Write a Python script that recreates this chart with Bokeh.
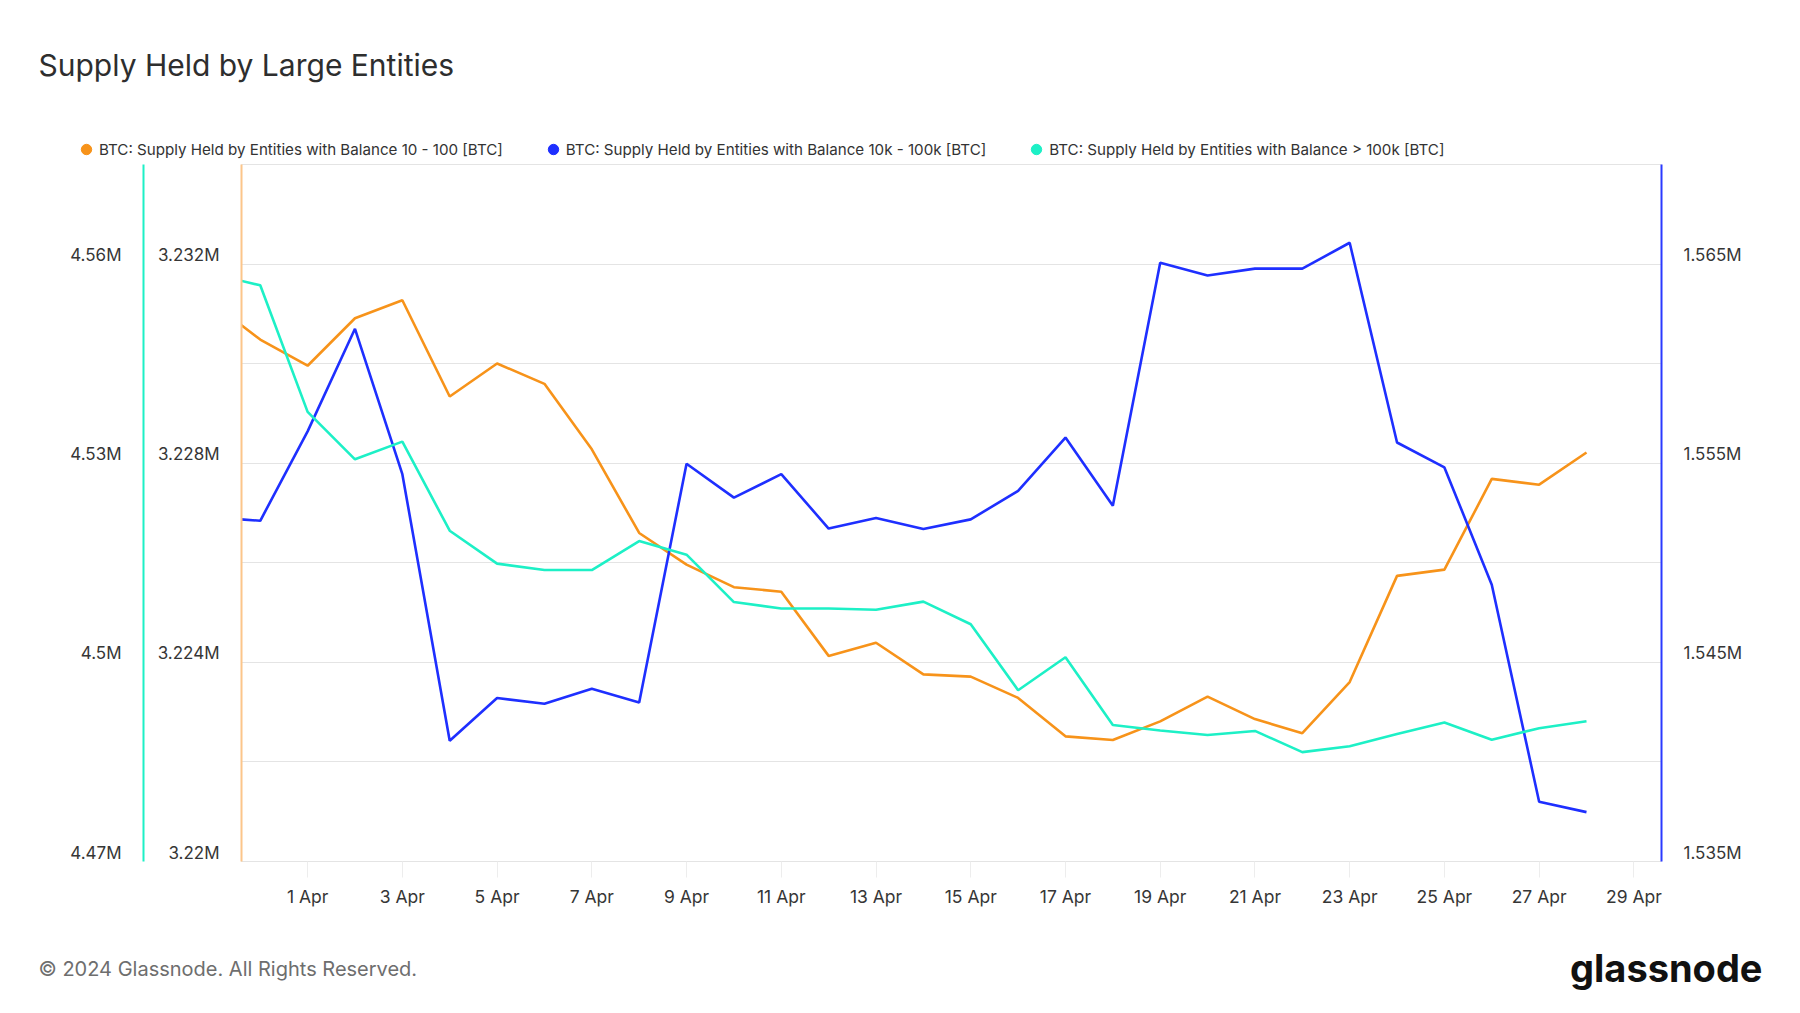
from datetime import datetime, timedelta, timezone

from bokeh.plotting import figure
from bokeh.layouts import column
from bokeh.models import (Range1d, LinearAxis, FixedTicker, CustomJSTickFormatter,
                          Legend, LegendItem, Label, Grid, ColumnDataSource)
from bokeh.embed import file_html
from bokeh.resources import INLINE

# ---------------- data (BTC) ----------------
start_day = datetime(2024, 3, 30, tzinfo=timezone.utc)
dates = [start_day + timedelta(days=i) for i in range(30)]  # 30 Mar .. 28 Apr

supply_10_100 = [3.231212, 3.230484, 3.229958, 3.230911, 3.231274, 3.229340, 3.230003,
                 3.229594, 3.228279, 3.226599, 3.225964, 3.225510, 3.225419, 3.224130,
                 3.224393, 3.223758, 3.223713, 3.223286, 3.222514, 3.222442, 3.222815,
                 3.223313, 3.222860, 3.222578, 3.223604, 3.225737, 3.225862, 3.227685,
                 3.227569, 3.228215]
supply_10k_100k = [1.55228, 1.55211, 1.55660, 1.56175, 1.55445, 1.54106, 1.54321, 1.54292,
                   1.54367, 1.54299, 1.55497, 1.55327, 1.55445, 1.55172, 1.55225, 1.55170,
                   1.55218, 1.55361, 1.55629, 1.55286, 1.56507, 1.56443, 1.56477, 1.56477,
                   1.56607, 1.55604, 1.55479, 1.54890, 1.53800, 1.53748]
supply_gt_100k = [4.55850, 4.55680, 4.53774, 4.53059, 4.53325, 4.51983, 4.51487, 4.51391,
                  4.51391, 4.51827, 4.51622, 4.50908, 4.50812, 4.50812, 4.50792, 4.50915,
                  4.50574, 4.49580, 4.50077, 4.49056, 4.48974, 4.48906, 4.48967, 4.48648,
                  4.48736, 4.48920, 4.49094, 4.48835, 4.49008, 4.49112]

series_names = ["BTC: Supply Held by Entities with Balance 10 - 100 [BTC]",
                "BTC: Supply Held by Entities with Balance 10k - 100k [BTC]",
                "BTC: Supply Held by Entities with Balance > 100k [BTC]"]

x_tick_days = [1, 3, 5, 7, 9, 11, 13, 15, 17, 19, 21, 23, 25, 27, 29]
x_tick_labels = ["1 Apr", "3 Apr", "5 Apr", "7 Apr", "9 Apr", "11 Apr", "13 Apr", "15 Apr",
                 "17 Apr", "19 Apr", "21 Apr", "23 Apr", "25 Apr", "27 Apr", "29 Apr"]

cyan_ticks = [4.47e6, 4.50e6, 4.53e6, 4.56e6]
cyan_labels = ["4.47M", "4.5M", "4.53M", "4.56M"]
orange_ticks = [3.220e6, 3.224e6, 3.228e6, 3.232e6]
orange_labels = ["3.22M", "3.224M", "3.228M", "3.232M"]
blue_ticks = [1.535e6, 1.545e6, 1.555e6, 1.565e6]
blue_labels = ["1.535M", "1.545M", "1.555M", "1.565M"]
grid_ticks = [4.47e6, 4.485e6, 4.50e6, 4.515e6, 4.53e6, 4.545e6, 4.56e6]

title_text = "Supply Held by Large Entities"
footer_text = "© 2024 Glassnode. All Rights Reserved."
logo_text = "glassnode"

# ---------------- style ----------------
ORANGE = "#F7931A"
BLUE = "#1E2FFF"
CYAN = "#1DF0C6"
FONT = "Inter"
TXT = "#363636"
W = 1798
HEAD_H, MAIN_H, FOOT_H = 164, 756, 90

ms = lambda d: d.timestamp() * 1000.0
x_start = ms(datetime(2024, 3, 30, 14, 30, tzinfo=timezone.utc))
x_end = ms(datetime(2024, 4, 29, 14, 0, tzinfo=timezone.utc))
x_ticks = [ms(datetime(2024, 4, d, tzinfo=timezone.utc)) for d in x_tick_days]

cyan_rng = (4.47e6, 4.575e6)
orange_rng = (3.220e6, 3.234e6)
blue_rng = (1.535e6, 1.570e6)
FRAME_H = 697
LBL_SHIFT = 9  # px, labels sit slightly above their grid line


def shifted(r):
    d = (r[1] - r[0]) * LBL_SHIFT / FRAME_H
    return Range1d(r[0] - d, r[1] - d)


def bare_fig(h):
    f = figure(width=W, height=h, output_backend="svg", toolbar_location=None,
               x_axis_location=None, y_axis_location=None,
               x_range=Range1d(0, 1), y_range=Range1d(0, 1),
               min_border=0, min_border_left=0, min_border_right=0,
               min_border_top=0, min_border_bottom=0, frame_align=False)
    f.outline_line_color = None
    f.xgrid.visible = False
    f.ygrid.visible = False
    f.background_fill_color = "white"
    f.border_fill_color = "white"
    return f


# ---------------- header: title + legend ----------------
head = bare_fig(HEAD_H)
head.add_layout(Label(x=38, y=HEAD_H - 64, x_units="screen", y_units="screen",
                      text=title_text, text_font=FONT, text_font_size="30px",
                      text_color="#2e2e2e", text_baseline="middle"))
nan = float("nan")
marker_src = ColumnDataSource(dict(x=[nan], y=[nan]))
dots = [head.scatter("x", "y", source=marker_src, marker="circle", fill_color=c, line_color=c)
        for c in (ORANGE, BLUE, CYAN)]
legend = Legend(items=[LegendItem(label=n, renderers=[r]) for n, r in zip(series_names, dots)],
                orientation="horizontal", location=(73, 2),
                glyph_width=26, glyph_height=26, label_standoff=0, spacing=37,
                padding=0, margin=0, border_line_color=None, background_fill_alpha=0,
                label_text_font=FONT, label_text_font_size="15.15px", label_text_color="#333333")
head.add_layout(legend)

# ---------------- main chart ----------------
p = figure(width=W, height=MAIN_H, x_axis_type="datetime", output_backend="svg",
           toolbar_location=None, y_axis_location=None,
           x_range=Range1d(x_start, x_end), y_range=Range1d(*cyan_rng),
           min_border_left=241, min_border_right=W - 1661, min_border_top=0,
           min_border_bottom=MAIN_H - FRAME_H, frame_align=False)
p.extra_y_ranges = {"orange": Range1d(*orange_rng), "blue": Range1d(*blue_rng),
                    "cyan_lbl": shifted(cyan_rng), "orange_lbl": shifted(orange_rng),
                    "blue_lbl": shifted(blue_rng)}
p.outline_line_color = "#E4E4E4"
p.background_fill_color = "white"
p.border_fill_color = "white"
p.xgrid.visible = False
p.ygrid.visible = False

grid = Grid(dimension=1, ticker=FixedTicker(ticks=grid_ticks), grid_line_color="#E4E4E4",
            grid_line_width=1)
p.add_layout(grid)


def tick_fmt(tvals, tlabels):
    return CustomJSTickFormatter(args=dict(tv=tvals, tl=tlabels),
                                 code="const i = tv.indexOf(tick); return i >= 0 ? tl[i] : '';")


def make_yaxis(range_name, tvals, tlabels, color):
    ax = LinearAxis(y_range_name=range_name, ticker=FixedTicker(ticks=tvals),
                    formatter=tick_fmt(tvals, tlabels))
    ax.axis_line_color = color
    ax.axis_line_width = 2
    ax.major_tick_out = 0
    ax.major_tick_in = 0
    ax.major_tick_line_color = None
    ax.minor_tick_line_color = None
    ax.major_label_text_font = FONT
    ax.major_label_text_font_size = "17px"
    ax.major_label_text_color = TXT
    ax.major_label_standoff = 22
    return ax


ax_orange = make_yaxis("orange_lbl", orange_ticks, orange_labels, "#FCC58A")
ax_orange.axis_label = " "
ax_orange.axis_label_text_font_size = "6px"
ax_orange.axis_label_standoff = 2
ax_cyan = make_yaxis("cyan_lbl", cyan_ticks, cyan_labels, CYAN)
ax_blue = make_yaxis("blue_lbl", blue_ticks, blue_labels, "#2A3AFF")
p.add_layout(ax_orange, "left")
p.add_layout(ax_cyan, "left")
p.add_layout(ax_blue, "right")

xa = p.xaxis[0]
xa.ticker = FixedTicker(ticks=x_ticks)
xa.formatter = tick_fmt(x_ticks, x_tick_labels)
xa.axis_line_color = "#E4E4E4"
xa.major_tick_out = 16
xa.major_tick_in = 0
xa.major_tick_line_color = "#EDEDED"
xa.minor_tick_line_color = None
xa.major_label_text_font = FONT
xa.major_label_text_font_size = "17.5px"
xa.major_label_text_color = TXT
xa.major_label_standoff = 8

src = ColumnDataSource(dict(x=dates,
                            o=[v * 1e6 for v in supply_10_100],
                            b=[v * 1e6 for v in supply_10k_100k],
                            c=[v * 1e6 for v in supply_gt_100k]))

p.line("x", "o", source=src, y_range_name="orange", line_color=ORANGE, line_width=2.6)
p.line("x", "b", source=src, y_range_name="blue", line_color=BLUE, line_width=2.6)
p.line("x", "c", source=src, line_color=CYAN, line_width=2.6)

# ---------------- footer ----------------
foot = bare_fig(FOOT_H)
foot.add_layout(Label(x=38, y=FOOT_H - 48, x_units="screen", y_units="screen",
                      text=footer_text, text_font=FONT, text_font_size="20px",
                      text_color="#6e6e6e", text_baseline="middle"))
foot.add_layout(Label(x=1762, y=FOOT_H - 47, x_units="screen", y_units="screen",
                      text=logo_text, text_font=FONT, text_font_style="bold",
                      text_font_size="38px", text_color="#111111", text_baseline="middle",
                      text_align="right"))

layout = column(head, p, foot, spacing=0)
open("out.html", "w").write(file_html(layout, INLINE))
